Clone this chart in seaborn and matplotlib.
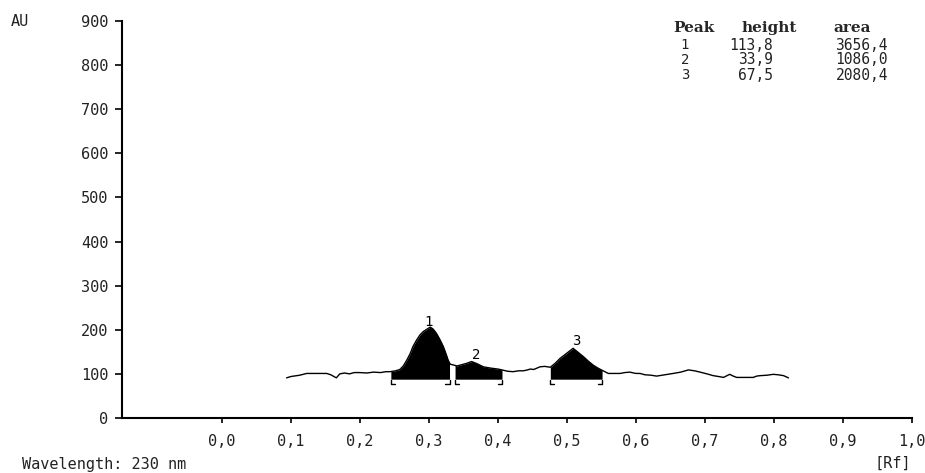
import numpy as np
import matplotlib
matplotlib.use("Agg")
import matplotlib.pyplot as plt
import seaborn as sns

# ---- data ----
rf = [0.094, 0.100, 0.113, 0.123, 0.140, 0.152, 0.158, 0.166, 0.171, 0.178,
      0.185, 0.192, 0.200, 0.210, 0.220, 0.230, 0.238, 0.244, 0.252, 0.258,
      0.263, 0.268, 0.273, 0.277, 0.282, 0.287, 0.292, 0.297, 0.302, 0.306,
      0.311, 0.316, 0.321, 0.325, 0.328, 0.331, 0.336, 0.341, 0.348, 0.355,
      0.362, 0.370, 0.379, 0.390, 0.400, 0.406, 0.414, 0.422, 0.430, 0.437,
      0.443, 0.447, 0.452, 0.461, 0.468, 0.476, 0.483, 0.490, 0.500, 0.509,
      0.517, 0.524, 0.531, 0.538, 0.544, 0.550, 0.555, 0.560, 0.568, 0.577,
      0.584, 0.591, 0.600, 0.606, 0.613, 0.622, 0.630, 0.642, 0.654, 0.665,
      0.676, 0.685, 0.693, 0.703, 0.712, 0.720, 0.727, 0.732, 0.736, 0.741,
      0.746, 0.758, 0.770, 0.775, 0.780, 0.790, 0.799, 0.806, 0.814, 0.821]
au = [91, 94, 97, 101, 101, 101, 98, 91, 100, 102,
      100, 103, 103, 102, 104, 103, 105, 105, 107, 110,
      118, 131, 146, 162, 176, 188, 196, 201, 206, 202,
      192, 178, 162, 145, 131, 122, 120, 118, 121, 124,
      128, 123, 116, 113, 111, 109, 106, 105, 107, 107,
      109, 111, 110, 116, 117, 115, 124, 135, 147, 158,
      148, 139, 129, 120, 114, 109, 105, 101, 101, 101,
      103, 104, 101, 101, 98, 97, 95, 98, 101, 104,
      109, 107, 104, 100, 96, 94, 92, 96, 99, 95,
      92, 92, 92, 95, 96, 97, 99, 98, 96, 91]

peak_ids = ["1", "2", "3"]
peak_start = [0.245, 0.338, 0.476]
peak_end = [0.330, 0.406, 0.551]
peak_height = ["113,8", "33,9", "67,5"]
peak_area = ["3656,4", "1086,0", "2080,4"]
fill_base = 88
label_pos = [(0.300, 218), (0.368, 143), (0.514, 175)]

x_ticks = [0.0, 0.1, 0.2, 0.3, 0.4, 0.5, 0.6, 0.7, 0.8, 0.9, 1.0]
x_ticklabels = ["0,0", "0,1", "0,2", "0,3", "0,4", "0,5", "0,6", "0,7", "0,8", "0,9", "1,0"]
y_ticks = [0, 100, 200, 300, 400, 500, 600, 700, 800, 900]

# ---- style ----
sns.set_style("white")
plt.rcParams['font.family'] = ['DejaVu Sans Mono', 'DejaVu Sans']

fig = plt.figure(figsize=(9.25, 4.73), dpi=100)
ax = fig.add_axes([122/925, 1-418/473, (912-122)/925, (418-21)/473])

rf_a = np.array(rf)
au_a = np.array(au)

sns.lineplot(x=rf_a, y=au_a, color="black", linewidth=1.0, estimator=None, ax=ax)

# filled peaks
for s, e in zip(peak_start, peak_end):
    inside = (rf_a > s) & (rf_a < e)
    xs = np.concatenate([[s], rf_a[inside], [e]])
    ys = np.concatenate([[np.interp(s, rf_a, au_a)], au_a[inside], [np.interp(e, rf_a, au_a)]])
    ax.fill_between(xs, fill_base, ys, color="black", linewidth=0)
    # brackets
    ax.plot([s, s, s + 0.006], [fill_base - 1, fill_base - 12, fill_base - 12], color="black", lw=1.0)
    ax.plot([e - 0.006, e, e], [fill_base - 12, fill_base - 12, fill_base - 1], color="black", lw=1.0)

for pid, (px, py) in zip(peak_ids, label_pos):
    ax.text(px, py, pid, ha="center", va="center", fontsize=10, color="black")

ax.set_xlim(-0.1445, 1.0)
ax.set_ylim(0, 900)
ax.set_xticks(x_ticks)
ax.set_xticklabels(x_ticklabels)
ax.set_yticks(y_ticks)
ax.set_xlabel("")
ax.set_ylabel("")

sns.despine(ax=ax)
for sp in ["left", "bottom"]:
    ax.spines[sp].set_color("black")
    ax.spines[sp].set_linewidth(1.5)

ax.tick_params(axis="y", direction="out", length=5, width=1.2, pad=5,
               labelsize=11, colors="black", labelcolor="#222222", left=True)
ax.tick_params(axis="x", direction="out", length=3.6, width=1.2, pad=8,
               labelsize=11, colors="black", labelcolor="#222222", bottom=True)

# extra texts
fig.text(11/925, 1-21/473, "AU", ha="left", va="center", fontsize=11, color="#222222")
fig.text(21.7/925, 1-464/473, "Wavelength: 230 nm", ha="left", va="center", fontsize=11, color="#222222")
fig.text(911/925, 1-463/473, "[Rf]", ha="right", va="center", fontsize=11, color="#222222")

# table
hdr_y = 1 - 28/473
fig.text(673/925, hdr_y, "Peak", ha="left", va="center", fontsize=11,
         fontweight="bold", family="DejaVu Serif")
fig.text(742/925, hdr_y, "height", ha="left", va="center", fontsize=11,
         fontweight="bold", family="DejaVu Serif")
fig.text(833/925, hdr_y, "area", ha="left", va="center", fontsize=11,
         fontweight="bold", family="DejaVu Serif")
row_ys = [45, 60, 75]
for pid, h, a, ry in zip(peak_ids, peak_height, peak_area, row_ys):
    yy = 1 - ry/473
    fig.text(685/925, yy, pid, ha="center", va="center", fontsize=10, color="#222222")
    fig.text(773/925, yy, h, ha="right", va="center", fontsize=10.5, color="#222222")
    fig.text(888/925, yy, a, ha="right", va="center", fontsize=10.5, color="#222222")

fig.savefig("out.png", dpi=100, facecolor="white")
